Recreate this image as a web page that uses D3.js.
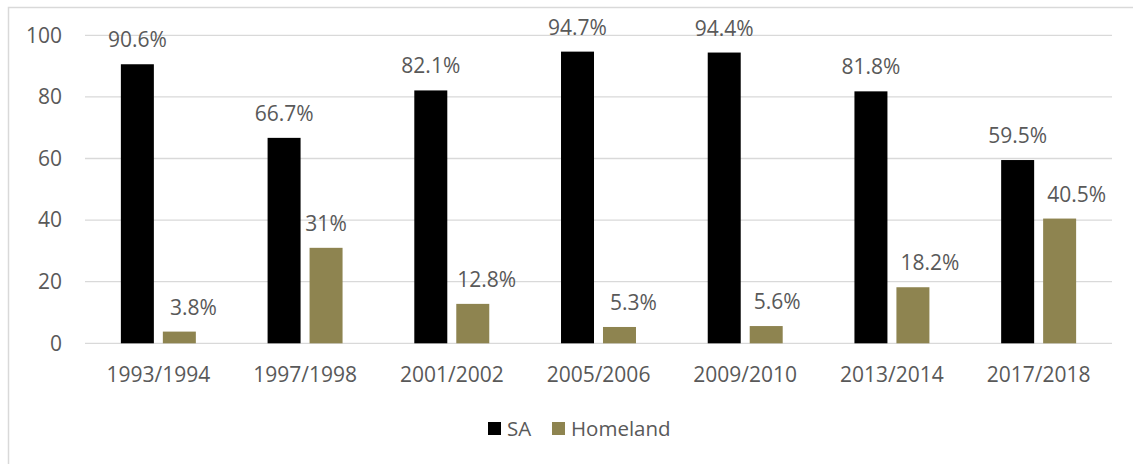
<!DOCTYPE html>
<html>
<head>
<meta charset="utf-8">
<script src="https://cdn.jsdelivr.net/npm/d3@7"></script>
<style>
  html, body { margin: 0; padding: 0; background: #fff; }
  svg { display: block; }
  text { font-family: "Open Sans", sans-serif; fill: #595959; }
</style>
</head>
<body>
<svg id="chart" width="1133" height="464"></svg>
<script>
const categories = ["1993/1994", "1997/1998", "2001/2002", "2005/2006", "2009/2010", "2013/2014", "2017/2018"];
const seriesNames = ["SA", "Homeland"];
const saValues = [90.6, 66.7, 82.1, 94.7, 94.4, 81.8, 59.5];
const homelandValues = [3.8, 31, 12.8, 5.3, 5.6, 18.2, 40.5];
const saLabels = ["90.6%", "66.7%", "82.1%", "94.7%", "94.4%", "81.8%", "59.5%"];
const homelandLabels = ["3.8%", "31%", "12.8%", "5.3%", "5.6%", "18.2%", "40.5%"];
const yTicks = [0, 20, 40, 60, 80, 100];

// label horizontal nudges (layout, as placed in original)
const homelandLabelNudge = [14, 0, 14, 14, 11, 17, 17];

const colors = { SA: "#000000", Homeland: "#8e8450" };

const svg = d3.select("#chart");
const plotLeft = 85, plotRight = 1112, plotTop = 35.3, plotBottom = 343.3;
const fs = "21px";

// outer border
svg.append("rect")
  .attr("x", 8.5).attr("y", 7.5).attr("width", 1140).attr("height", 470)
  .attr("fill", "none").attr("stroke", "#d9d9d9").attr("stroke-width", 1.5);

const x0 = d3.scaleBand().domain(categories).range([plotLeft, plotRight]).paddingInner(0.489).paddingOuter(0.2445);
const x1 = d3.scaleBand().domain(seriesNames).range([0, x0.bandwidth()]).paddingInner(0.214);
const y = d3.scaleLinear().domain([0, 100]).range([plotBottom, plotTop]);

// gridlines
svg.append("g").selectAll("line").data(yTicks).join("line")
  .attr("x1", plotLeft).attr("x2", plotRight)
  .attr("y1", d => y(d)).attr("y2", d => y(d))
  .attr("stroke", "#d9d9d9").attr("stroke-width", 1.3);

// y axis labels
const yAxis = d3.axisLeft(y).tickValues(yTicks).tickSize(0).tickPadding(0);
const yg = svg.append("g").attr("transform", `translate(62,0)`).call(yAxis);
yg.select(".domain").remove();
yg.selectAll("text").style("font-size", fs).attr("fill", "#595959")
  .style("font-family", "'Open Sans', sans-serif");

// x axis labels
const xAxis = d3.axisBottom(x0).tickSize(0).tickPadding(0);
const xg = svg.append("g").attr("transform", `translate(0,${plotBottom})`).call(xAxis);
xg.select(".domain").remove();
xg.selectAll("text").style("font-size", fs).attr("fill", "#595959")
  .style("font-family", "'Open Sans', sans-serif")
  .attr("dy", null).attr("y", 39);

const rows = categories.map((c, i) => ({ cat: c, i, SA: saValues[i], Homeland: homelandValues[i] }));

// bars
const groups = svg.append("g").selectAll("g").data(rows).join("g")
  .attr("transform", d => `translate(${x0(d.cat)},0)`);

groups.selectAll("rect").data(d => seriesNames.map(s => ({ s, v: d[s] }))).join("rect")
  .attr("x", d => x1(d.s))
  .attr("width", x1.bandwidth())
  .attr("y", d => y(d.v))
  .attr("height", d => y(0) - y(d.v))
  .attr("fill", d => colors[d.s]);

// data labels
groups.append("text")
  .attr("x", x1("SA") + x1.bandwidth() / 2)
  .attr("y", d => y(d.SA) - 17)
  .attr("text-anchor", "middle")
  .style("font-size", fs)
  .text(d => saLabels[d.i]);

groups.append("text")
  .attr("x", d => x1("Homeland") + x1.bandwidth() / 2 + homelandLabelNudge[d.i])
  .attr("y", d => y(d.Homeland) - 17)
  .attr("text-anchor", "middle")
  .style("font-size", fs)
  .text(d => homelandLabels[d.i]);

// legend
const legendPos = [488, 552];
const lg = svg.append("g").selectAll("g").data(seriesNames).join("g")
  .attr("transform", (d, i) => `translate(${legendPos[i]},422)`);
lg.append("rect").attr("width", 13).attr("height", 13).attr("fill", d => colors[d]);
lg.append("text").attr("x", 19).attr("y", 13.5).style("font-size", "20.5px").text(d => d);
</script>
</body>
</html>
